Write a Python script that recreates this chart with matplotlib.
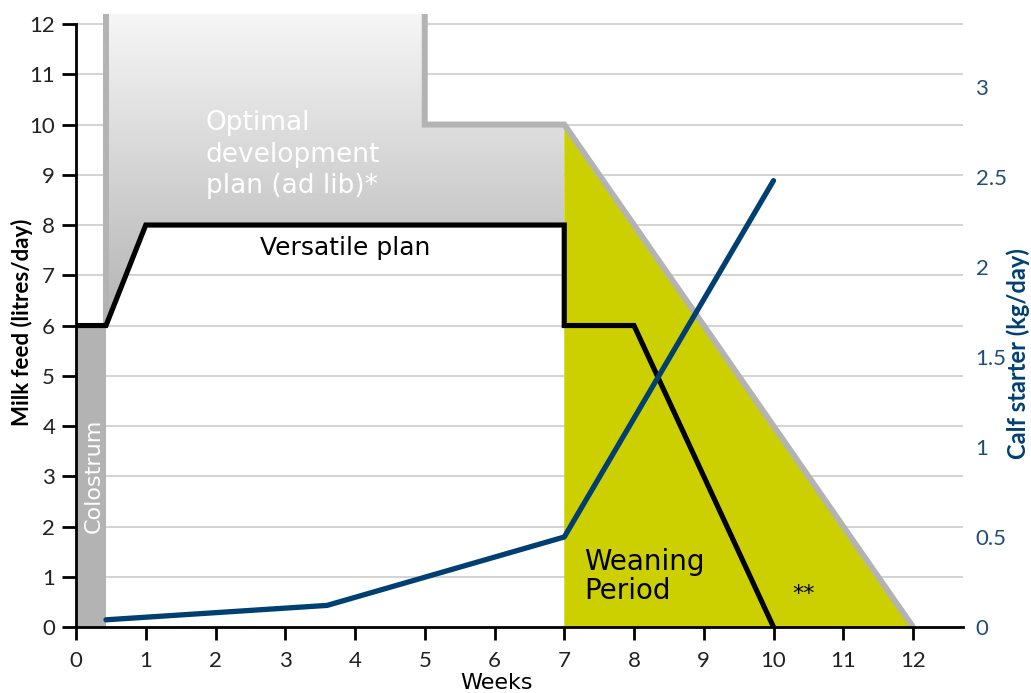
import numpy as np
import matplotlib
matplotlib.use("Agg")
import matplotlib.pyplot as plt
from matplotlib.patches import Polygon, Rectangle

plt.rcParams['font.family'] = ['Lato', 'DejaVu Sans']
ANN = ['DejaVu Sans']

# ---- data ----
weeks_ticks = list(range(0, 13))
milk_ticks = list(range(0, 13))
starter_ticks = [0, 0.5, 1, 1.5, 2, 2.5, 3]
starter_tick_labels = ["0", "0.5", "1", "1.5", "2", "2.5", "3"]

colostrum_end = 0.43
colostrum_level = 6

versatile_x = [0, 0.43, 1, 7, 7, 8, 10]
versatile_y = [6, 6, 8, 8, 6, 6, 0]

optimal_left_x = [0.43, 0.43]
optimal_left_y = [6, 12.2]
optimal_right_x = [5, 5, 7, 12]
optimal_right_y = [12.2, 10, 10, 0]

weaning_x = [7, 7, 12]
weaning_y = [0, 10, 0]

starter_x = [0.43, 3.6, 7, 10]
starter_y = [0.04, 0.12, 0.5, 2.48]

# ---- figure ----
fig = plt.figure(figsize=(10.31, 6.93), dpi=100)
ax = fig.add_axes([76/1031, 66/693, (963-76)/1031, (627-14)/693])
ymax = 12.2
xmax = (963-76)/69.75
ax.set_xlim(0, xmax)
ax.set_ylim(0, ymax)

# grid
for v in milk_ticks[1:]:
    ax.axhline(v, color='#cccccc', lw=1.2, zorder=0.5)

# gradient region (optimal plan)
grad_poly_x = [0.43, 0.43, 5, 5, 7, 7, 1]
grad_poly_y = [6, 12.2, 12.2, 10, 10, 8, 8]
poly = Polygon(list(zip(grad_poly_x, grad_poly_y)), closed=True, facecolor='none',
               edgecolor='none', transform=ax.transData)
ax.add_patch(poly)
g = np.linspace(1, 0, 256).reshape(-1, 1)
c_top = np.array([0.965, 0.965, 0.965])
c_bot = np.array([0.70, 0.70, 0.70])
img = (c_bot + (c_top - c_bot) * g).reshape(256, 1, 3)
im = ax.imshow(img, extent=[0.43, 7, 6, 12.2], aspect='auto', origin='upper',
               zorder=1, interpolation='bilinear')
im.set_clip_path(poly)
ax.set_xlim(0, xmax)
ax.set_ylim(0, ymax)

# weaning triangle
ax.fill(weaning_x, weaning_y, color='#cdd000', zorder=1, lw=0)

# colostrum
ax.add_patch(Rectangle((0, 0), colostrum_end, colostrum_level, facecolor='#b3b3b3',
                       edgecolor='none', zorder=1))

# optimal outline
ax.plot(optimal_left_x, optimal_left_y, color='#b3b3b3', lw=4.3, zorder=2,
        solid_capstyle='butt')
ax.plot(optimal_right_x, optimal_right_y, color='#b3b3b3', lw=4.3, zorder=2,
        solid_capstyle='butt', solid_joinstyle='miter')

# versatile plan
ax.plot(versatile_x, versatile_y, color='black', lw=3.7, zorder=3,
        solid_joinstyle='miter')

# texts
ax.text(0.25, 3.0, "Colostrum", rotation=90, color='white', fontsize=16,
        ha='center', va='center', zorder=4, family=ANN)
ax.text(1.86, 9.4, "Optimal\ndevelopment\nplan (ad lib)*", color='white', fontsize=19,
        ha='left', va='center', linespacing=1.27, zorder=4, family=ANN)
ax.text(3.86, 7.55, "Versatile plan", color='black', fontsize=18,
        ha='center', va='center', zorder=4, family=ANN)
ax.text(7.29, 1.0, "Weaning\nPeriod", color='black', fontsize=20,
        ha='left', va='center', linespacing=1.05, zorder=4, family=ANN)
ax.text(10.43, 0.65, "**", color='black', fontsize=16, ha='center', va='center',
        zorder=4, family=ANN)

# axes styling
for s in ['top', 'right']:
    ax.spines[s].set_visible(False)
ax.spines['left'].set_bounds(0, 12)
ax.spines['left'].set_linewidth(2)
ax.spines['bottom'].set_linewidth(2)
ax.spines['left'].set_zorder(5)
ax.spines['bottom'].set_zorder(5)
ax.set_yticks(milk_ticks)
ax.set_xticks(weeks_ticks)
ax.tick_params(axis='y', length=10, width=2, pad=5, labelsize=16, labelcolor='#222222')
ax.tick_params(axis='x', length=9, width=2, pad=8, labelsize=16, labelcolor='#222222')

# twin axis
ax2 = ax.twinx()
ax2.set_ylim(0, ymax * 50.25 / 180)
ax2.set_xlim(0, xmax)
ax2.plot(starter_x, starter_y, color='#003f72', lw=3.8, solid_capstyle='round', zorder=3)
ax2.set_yticks(starter_ticks)
ax2.set_yticklabels(starter_tick_labels)
for s in ['top', 'right', 'left', 'bottom']:
    ax2.spines[s].set_visible(False)
ax2.tick_params(axis='y', length=0, pad=9, labelsize=16, labelcolor='#1f4e7a')

fig.text(22/1031, 1-322/693, "Milk feed (litres/day)", rotation=90, fontsize=16,
         fontweight='bold', ha='center', va='center', color='black')
fig.text(1018/1031, 1-354/693, "Calf starter (kg/day)", rotation=90, fontsize=17,
         fontweight='bold', ha='center', va='center', color='#003f72')
fig.text(497/1031, 1-683/693, "Weeks", fontsize=16, ha='center', va='center',
         color='black', family=ANN)

fig.savefig("out.png", dpi=100)
